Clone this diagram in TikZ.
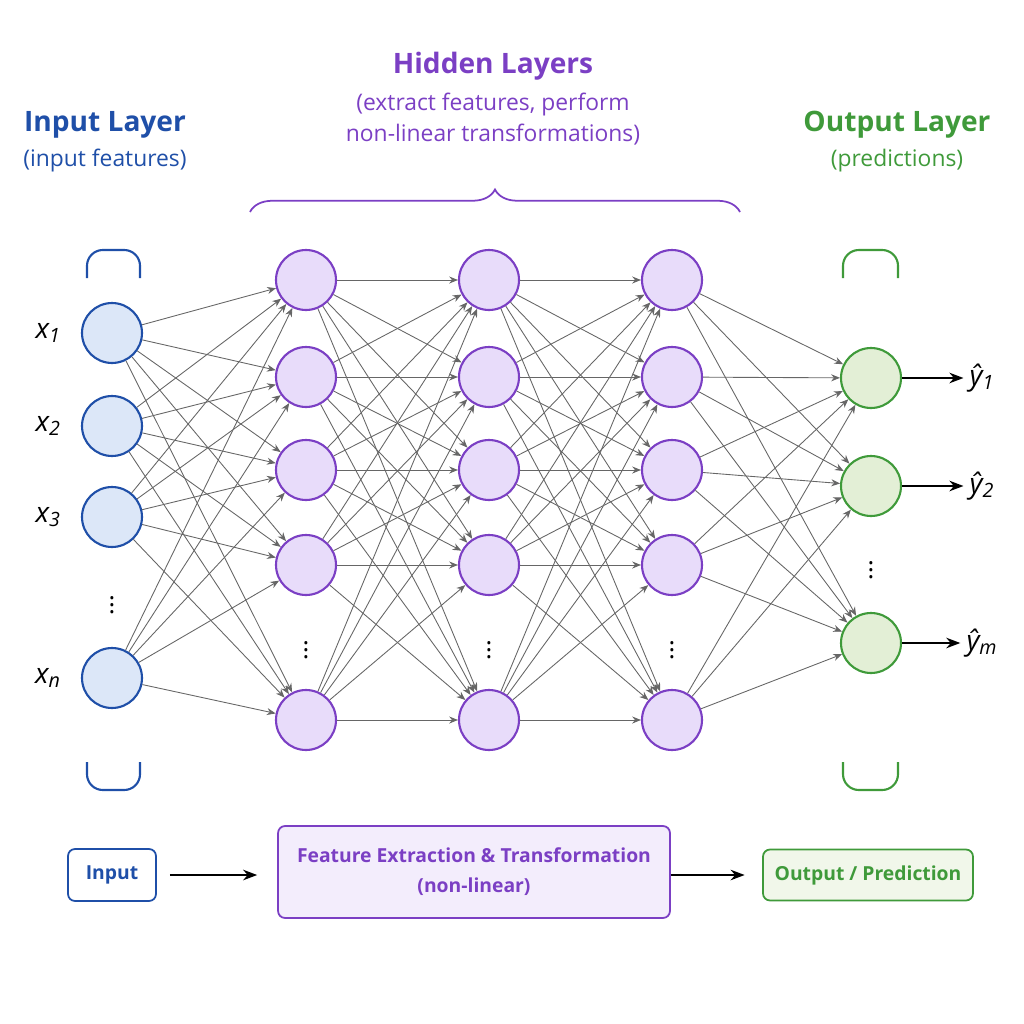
\documentclass[tikz,border=0pt]{standalone}
\usepackage{fontspec}
\setmainfont{Open Sans}
\usetikzlibrary{decorations.pathreplacing,arrows.meta}
\definecolor{inblue}{HTML}{1F4FA8}
\definecolor{infill}{HTML}{DCE7F8}
\definecolor{hidpurple}{HTML}{7B3FC4}
\definecolor{hidfill}{HTML}{E8DCFA}
\definecolor{outgreen}{HTML}{3F9A3A}
\definecolor{outfill}{HTML}{E3EFD6}
\tikzset{
  neuron/.style={circle, draw, line width=1.2pt, minimum size=1.2cm, inner sep=0pt},
  innode/.style={neuron, draw=inblue, fill=infill},
  hidnode/.style={neuron, draw=hidpurple, fill=hidfill},
  outnode/.style={neuron, draw=outgreen, fill=outfill},
  link/.style={draw=black!60, line width=0.5pt, -{Stealth[length=5pt,width=4pt]}},
  flow/.style={line width=1.1pt, -{Stealth[length=8pt,width=6pt]}},
  vdots/.style={font=\Large},
  varlabel/.style={font=\fontsize{16}{18}\selectfont\itshape},
}
\begin{document}
\begin{tikzpicture}[x=0.02cm, y=-0.02cm]
    \useasboundingbox (0,0) rectangle (1024,1024);
    % titles
    \node[text=inblue, font=\fontsize{16}{18}\selectfont\bfseries] at (105,125) {Input Layer};
    \node[text=inblue, font=\fontsize{13}{15}\selectfont] at (105,161) {(input features)};
    \node[text=hidpurple, font=\fontsize{16}{18}\selectfont\bfseries] at (493,66) {Hidden Layers};
    \node[text=hidpurple, font=\fontsize{13}{18}\selectfont, align=center] at (493,119) {(extract features, perform\\non-linear transformations)};
    \node[text=outgreen, font=\fontsize{16}{18}\selectfont\bfseries] at (897,125) {Output Layer};
    \node[text=outgreen, font=\fontsize{13}{15}\selectfont] at (897,161) {(predictions)};
    \draw[hidpurple, line width=1pt, decorate, decoration={brace, amplitude=0.45cm}] (250,212) -- (740,212);
    % brackets
    \draw[inblue, line width=1.2pt, rounded corners=9pt] (87,278) -- (87,250) -- (140,250) -- (140,278);
    \draw[inblue, line width=1.2pt, rounded corners=9pt] (87,762) -- (87,790) -- (140,790) -- (140,762);
    \draw[outgreen, line width=1.2pt, rounded corners=9pt] (843,278) -- (843,250) -- (898,250) -- (898,278);
    \draw[outgreen, line width=1.2pt, rounded corners=9pt] (843,762) -- (843,790) -- (898,790) -- (898,762);
    % neurons
    \foreach \y [count=\i] in {333,426,517,678}
        \node[innode] (in\i) at (112,\y) {};
    \foreach \x/\l in {306/a,489/b,672/c}
        \foreach \y [count=\i] in {280,377,470,565,720}
            \node[hidnode] (h\l\i) at (\x,\y) {};
    \foreach \y [count=\i] in {378,486,643}
        \node[outnode] (out\i) at (871,\y) {};
    \node[vdots] at (112,600) {$\vdots$};
    \foreach \x in {306,489,672}
        \node[vdots] at (\x,645) {$\vdots$};
    \node[vdots] at (871,565) {$\vdots$};
    % labels
    \foreach \i/\s in {1/1,2/2,3/3,4/n}
        \node[varlabel, anchor=east] at ([xshift=-0.9cm]in\i) {x\textsubscript{\s}};
    \foreach \i/\s in {1/1,2/2,3/m}
        \node[varlabel] (yh\i) at (982,\ifcase\i\or 378\or 486\or 643\fi) {ŷ\textsubscript{\s}};
    % connections
    \foreach \i in {1,...,4}
        \foreach \j in {1,...,5}
            \draw[link] (in\i) -- (ha\j);
    \foreach \i in {1,...,5}
        \foreach \j in {1,...,5} {
            \draw[link] (ha\i) -- (hb\j);
            \draw[link] (hb\i) -- (hc\j);
        }
    \foreach \i in {1,...,5}
        \foreach \j in {1,...,3}
            \draw[link] (hc\i) -- (out\j);
    \foreach \i in {1,...,3}
        \draw[flow] (out\i) -- (yh\i);
    % bottom flow
    \node[draw=inblue, text=inblue, line width=1pt, rounded corners=4pt, minimum width=1.76cm, minimum height=1.04cm, font=\fontsize{11}{13}\selectfont\bfseries] (inbox) at (112,875) {Input};
    \node[draw=hidpurple, fill=hidfill!50, text=hidpurple, line width=1pt, rounded corners=4pt, minimum width=7.84cm, minimum height=1.84cm, align=center, font=\fontsize{11}{17}\selectfont\bfseries] (featbox) at (474,872) {Feature Extraction \& Transformation\\(non-linear)};
    \node[draw=outgreen, fill=outfill!50, text=outgreen, line width=1pt, rounded corners=4pt, minimum width=4.2cm, minimum height=1.02cm, font=\fontsize{11}{13}\selectfont\bfseries] (outbox) at (868,875) {Output / Prediction};
    \draw[flow] ([xshift=0.26cm]inbox.east) -- ([xshift=-0.4cm]featbox.west |- inbox);
    \draw[flow] (featbox.east |- outbox) -- ([xshift=-0.35cm]outbox.west);
\end{tikzpicture}
\end{document}
